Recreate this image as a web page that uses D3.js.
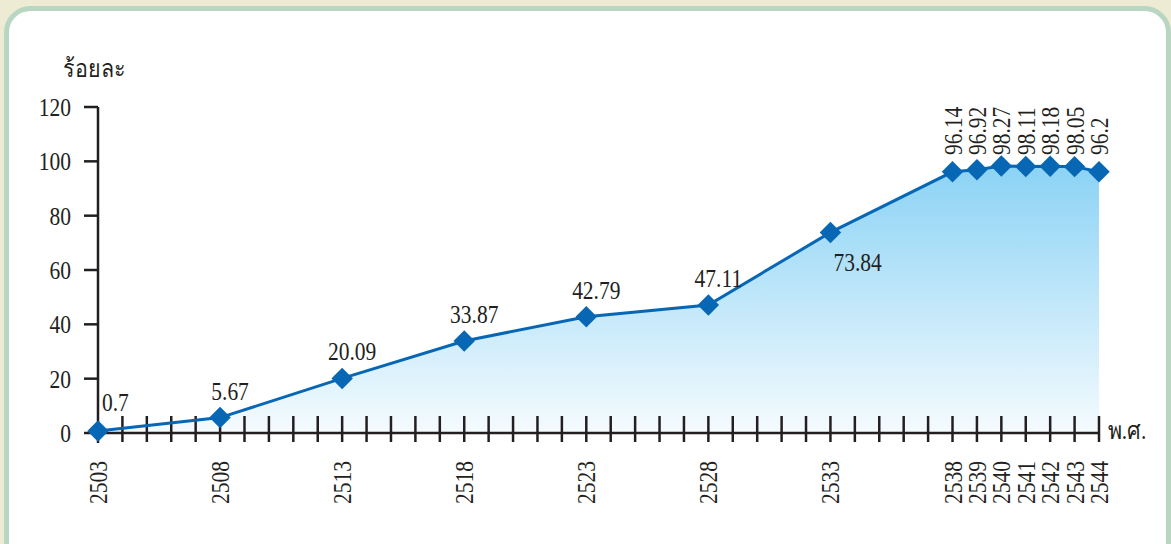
<!DOCTYPE html>
<html><head><meta charset="utf-8">
<script src="https://cdn.jsdelivr.net/npm/d3@7"></script>
<style>html,body{margin:0;padding:0;background:#EDEBD3;}svg{display:block;}</style>
</head><body>
<svg id="c" width="1171" height="544"></svg>
<script>
const years = [2503, 2508, 2513, 2518, 2523, 2528, 2533, 2538, 2539, 2540, 2541, 2542, 2543, 2544];
const values = [0.7, 5.67, 20.09, 33.87, 42.79, 47.11, 73.84, 96.14, 96.92, 98.27, 98.11, 98.18, 98.05, 96.2];
const valueLabels = ["0.7", "5.67", "20.09", "33.87", "42.79", "47.11", "73.84", "96.14", "96.92", "98.27", "98.11", "98.18", "98.05", "96.2"];
const yTicks = [0, 20, 40, 60, 80, 100, 120];
const yTitle = "ร้อยละ";
const xTitle = "พ.ศ.";

const svg = d3.select("#c");
const FONT = "'Liberation Serif','Times New Roman',serif";
const FS = 25, SX = 0.86, INK = "#231F20", BLUE = "#0767B4";

svg.append("rect").attr("width",1171).attr("height",544).attr("fill","#EDEBD3");
svg.append("rect").attr("x",6.5).attr("y",8.5).attr("width",1162).attr("height",580)
  .attr("rx",24).attr("fill","#fff").attr("stroke","#B9D6C3").attr("stroke-width",5);

const x = d3.scaleLinear().domain([2503, 2544]).range([98, 1099]);
const y = d3.scaleLinear().domain([0, 120]).range([433, 107]);

const defs = svg.append("defs");
const g = defs.append("linearGradient").attr("id","ag").attr("gradientUnits","userSpaceOnUse")
  .attr("x1",0).attr("x2",0).attr("y1",y(100)).attr("y2",y(0));
g.append("stop").attr("offset",0).attr("stop-color","#89D2F5");
g.append("stop").attr("offset",1).attr("stop-color","#F5FBFE");

function txt(str, px, py, anchor, rot, size){
  const t = svg.append("text")
    .attr("transform", `translate(${px},${py})` + (rot ? " rotate(-90)" : "") + ` scale(${SX},1)`)
    .attr("text-anchor", anchor || "start")
    .attr("font-family", FONT).attr("font-size", size || FS).attr("fill", INK)
    .text(str);
  return t;
}

const data = years.map((yr,i)=>({yr, v: values[i], lab: valueLabels[i]}));

// area
svg.append("path").datum(data)
  .attr("d", d3.area().x(d=>x(d.yr)).y0(y(0)).y1(d=>y(d.v)))
  .attr("fill","url(#ag)");

// axes
const ax = svg.append("g").attr("stroke",INK).attr("stroke-width",2.5).attr("fill","none");
ax.append("line").attr("x1",x(2503)).attr("x2",x(2503)).attr("y1",y(120)).attr("y2",443);
ax.append("line").attr("x1",x(2503)).attr("x2",x(2544)).attr("y1",y(0)).attr("y2",y(0));
yTicks.forEach(t=>{
  ax.append("line").attr("x1",84).attr("x2",x(2503)).attr("y1",y(t)).attr("y2",y(t));
});
d3.range(2504, 2545).forEach(yr=>{
  ax.append("line").attr("x1",x(yr)).attr("x2",x(yr)).attr("y1",y(0)-17).attr("y2",y(0)+9);
});

// y tick labels
yTicks.forEach(t=> txt(String(t), 71, y(t)+9, "end"));
// x tick labels
years.forEach(yr=> txt(String(yr), x(yr)+9, 461, "end", true));

txt(yTitle, 63, 77, "start");
txt(xTitle, 1108, 439, "start");

// line
svg.append("path").datum(data)
  .attr("d", d3.line().x(d=>x(d.yr)).y(d=>y(d.v)))
  .attr("fill","none").attr("stroke",BLUE).attr("stroke-width",3);

// markers
const sq = d3.symbol().type(d3.symbolSquare).size(230);
svg.selectAll(".m").data(data).join("path")
  .attr("d", sq)
  .attr("transform", d=>`translate(${x(d.yr)},${y(d.v)}) rotate(45)`)
  .attr("fill", BLUE);

// value labels
const topY = y(d3.max(values)) - 11;
data.forEach((d,i)=>{
  const px = x(d.yr), py = y(d.v);
  if (i === 0) txt(d.lab, px+4, py-20, "start");
  else if (d.yr === 2533) txt(d.lab, px+3, py+39, "start");
  else if (d.yr >= 2538) txt(d.lab, px+9, topY, "start", true);
  else txt(d.lab, px+10, py-18, "middle");
});
</script>
</body></html>
